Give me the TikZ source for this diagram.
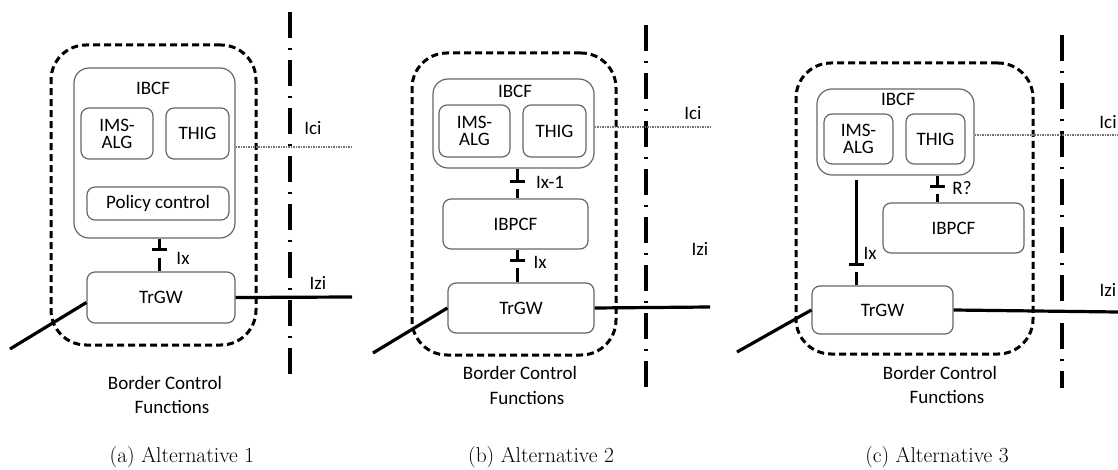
\documentclass[tikz,border=0pt]{standalone}
\usepackage{fontspec}
\newfontfamily\diagfont{Carlito}
\usetikzlibrary{arrows.meta}
\begin{document}
\begin{tikzpicture}[x=1pt,y=-1pt,
  box/.style={draw=black!60, line width=1.2pt, rounded corners=8pt, inner sep=0pt, align=center, font=\diagfont\fontsize{19}{19}\selectfont},
  bigbox/.style={draw=black!60, line width=1.2pt, rounded corners=15pt, inner sep=0pt},
  outer/.style={draw=black, line width=3pt, dash pattern=on 7pt off 4pt, rounded corners=35pt, inner sep=0pt},
  txt/.style={font=\diagfont\fontsize{19}{20}\selectfont, inner sep=0pt, align=center},
  captxt/.style={font=\fontsize{21.5}{24}\selectfont, inner sep=0pt},
  conn/.style={draw=black, line width=3pt},
  barend/.style={conn, -{Bar[width=15pt,line width=3pt]}},
  thick line/.style={draw=black, line width=3.2pt},
  ddash/.style={draw=black, line width=3.4pt, dash pattern=on 26pt off 10pt on 2pt off 10pt},
  icil/.style={draw=black!55, line width=1.4pt, dash pattern=on 1.5pt off 1pt}
]
\useasboundingbox (0,0) rectangle (1118,470);

% ---------------- Panel (a) ----------------
\node[outer, minimum width=205pt, minimum height=300pt] (outerA) at (153.5,195) {};
\node[bigbox, minimum width=161pt, minimum height=170pt] (ibcfA) at (154.5,153) {};
\node[txt] (ibcfAl) at (153,88) {IBCF};
\node[box, minimum width=72pt, minimum height=51pt] (imsA) at (117,133.5) {IMS-\\[-2pt]ALG};
\node[box, minimum width=63pt, minimum height=51pt] (thigA) at (197.5,133.5) {THIG};
\node[box, minimum width=142pt, minimum height=33pt] (polA) at (158,203.5) {Policy control};
\node[box, minimum width=148pt, minimum height=51pt] (trgwA) at (161,297.5) {TrGW};
\coordinate (tA1) at (159,251);
\coordinate (tA2) at (159,258);
\draw[barend] (ibcfA.south -| tA1) -- (tA1);
\draw[conn] (tA2) -- (trgwA.north -| tA2);
\node[txt] (ixA) at (183,258) {Ix};
\coordinate (izA) at (352,297);
\draw[thick line] (trgwA.east) -- (izA);
\coordinate (lA) at (10,349);
\draw[thick line] ([yshift=-5pt]trgwA.west) -- (lA);
\coordinate (ddA1) at (290,12);
\coordinate (ddA2) at (290,378);
\draw[ddash] (ddA1) -- (ddA2);
\coordinate (iciA) at (353,147);
\draw[icil] (ibcfA.east |- iciA) -- (iciA);
\node[txt] (iciAl) at (313,128) {Ici};
\node[txt] (iziAl) at (318,283) {Izi};
\node[txt] (bcfA1) at (165,383) {Border Control};
\node[txt] (bcfA2) at (172,407) {Functions};
\node[captxt] (capA) at (182,457) {(a) Alternative 1};

% ---------------- Panel (b) ----------------
\node[outer, minimum width=204pt, minimum height=302pt] (outerB) at (514,204) {};
\node[bigbox, minimum width=161pt, minimum height=89pt] (ibcfB) at (513.5,123.5) {};
\node[txt] (ibcfBl) at (515,91) {IBCF};
\node[box, minimum width=71pt, minimum height=52pt] (imsB) at (474.5,131) {IMS-\\[-2pt]ALG};
\node[box, minimum width=63pt, minimum height=52pt] (thigB) at (554.5,131) {THIG};
\node[box, minimum width=145pt, minimum height=50pt] (ibpcfB) at (515.5,224) {IBPCF};
\node[box, minimum width=146pt, minimum height=50pt] (trgwB) at (521,308) {TrGW};
\coordinate (tB1) at (517,183);
\coordinate (tB2) at (517,189);
\draw[barend] (ibcfB.south -| tB1) -- (tB1);
\draw[conn] (tB2) -- (ibpcfB.north -| tB2);
\node[txt] (ix1B) at (550,182) {Ix-1};
\coordinate (tB3) at (517,262);
\coordinate (tB4) at (517,268);
\draw[barend] (ibpcfB.south -| tB3) -- (tB3);
\draw[conn] (tB4) -- (trgwB.north -| tB4);
\node[txt] (ixB) at (540,262) {Ix};
\coordinate (izB) at (710,307);
\draw[thick line] (trgwB.east) -- (izB);
\coordinate (lB) at (373,353);
\draw[thick line] (trgwB.west) -- (lB);
\coordinate (ddB1) at (646,25);
\coordinate (ddB2) at (646,388);
\draw[ddash] (ddB1) -- (ddB2);
\coordinate (iciB) at (710,127);
\draw[icil] (ibcfB.east |- iciB) -- (iciB);
\node[txt] (iciBl) at (693,113) {Ici};
\node[txt] (iziBl) at (700,249) {Izi};
\node[txt] (bcfB1) at (520,373) {Border Control};
\node[txt] (bcfB2) at (527,398) {Functions};
\node[captxt] (capB) at (541,457) {(b) Alternative 2};

% ---------------- Panel (c) ----------------
\node[outer, minimum width=237pt, minimum height=291pt] (outerC) at (914.5,208.5) {};
\node[bigbox, minimum width=157pt, minimum height=86pt] (ibcfC) at (895.5,132) {};
\node[txt] (ibcfCl) at (898,99) {IBCF};
\node[box, minimum width=69pt, minimum height=50pt] (imsC) at (858.5,139) {IMS-\\[-2pt]ALG};
\node[box, minimum width=59pt, minimum height=50pt] (thigC) at (935.5,139) {THIG};
\node[box, minimum width=141pt, minimum height=50pt] (ibpcfC) at (953.5,228) {IBPCF};
\node[box, minimum width=141pt, minimum height=48pt] (trgwC) at (882.5,310) {TrGW};
\coordinate (tC1) at (937,188);
\coordinate (tC2) at (937,194);
\draw[barend] (ibcfC.south -| tC1) -- (tC1);
\draw[conn] (tC2) -- (ibpcfC.north -| tC2);
\node[txt] (rC) at (962,188) {R?};
\coordinate (tC0) at (856,180);
\coordinate (tC3) at (856,266);
\coordinate (tC4) at (856,272);
\draw[barend] (tC0) -- (tC3);
\draw[conn] (tC4) -- (trgwC.north -| tC4);
\node[txt] (ixC) at (870,253) {Ix};
\coordinate (izC) at (1118,312);
\draw[thick line] (trgwC.east) -- (izC);
\coordinate (lC) at (737,352);
\draw[thick line] (trgwC.west) -- (lC);
\coordinate (ddC1) at (1062,35);
\coordinate (ddC2) at (1062,388);
\draw[ddash] (ddC1) -- (ddC2);
\coordinate (iciC) at (1118,135);
\draw[icil] (ibcfC.east |- iciC) -- (iciC);
\node[txt] (iciCl) at (1108,122) {Ici};
\node[txt] (iziCl) at (1108,290) {Izi};
\node[txt] (bcfC1) at (940,373) {Border Control};
\node[txt] (bcfC2) at (947,397) {Functions};
\node[captxt] (capC) at (937,457) {(c) Alternative 3};
\end{tikzpicture}
\end{document}
